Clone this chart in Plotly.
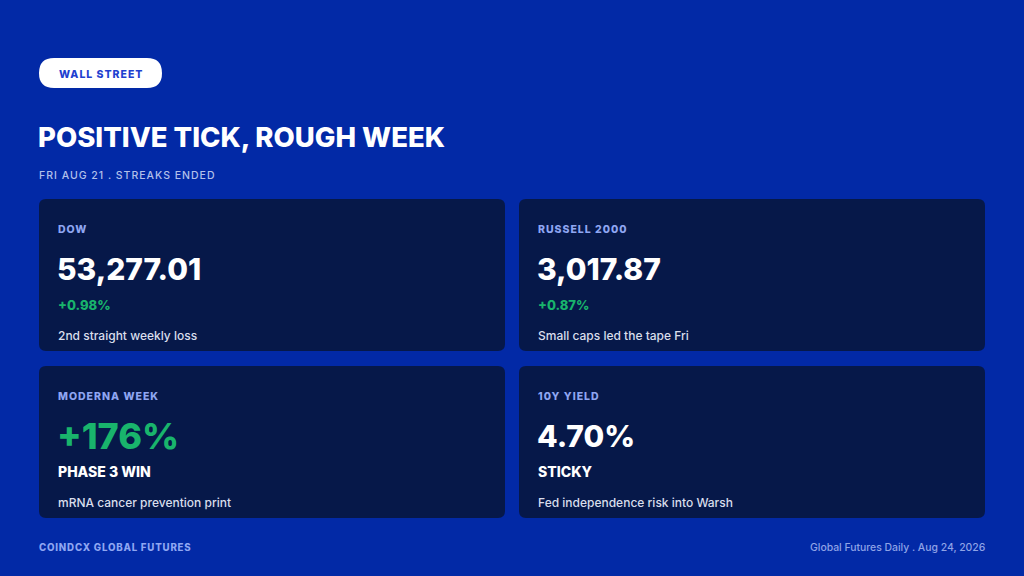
import plotly.graph_objects as go

# ---- data ----
kicker = "WALL STREET"
title = "POSITIVE TICK, ROUGH WEEK"
subtitle = "FRI AUG 21 . STREAKS ENDED"
card_labels = ["DOW", "RUSSELL 2000", "MODERNA WEEK", "10Y YIELD"]
card_values = ["53,277.01", "3,017.87", "+176%", "4.70%"]
card_subs = ["+0.98%", "+0.87%", "PHASE 3 WIN", "STICKY"]
card_sub_kind = ["change", "change", "tag", "tag"]
card_value_kind = ["plain", "plain", "positive", "plain"]
card_notes = ["2nd straight weekly loss", "Small caps led the tape Fri",
              "mRNA cancer prevention print", "Fed independence risk into Warsh"]
footer_left = "COINDCX GLOBAL FUTURES"
footer_right = "Global Futures Daily . Aug 24, 2026"

# ---- style ----
W, H = 1024, 576
BG = "#0229A6"
CARD = "#061849"
GREEN = "#19B46C"
LABEL = "#8FA6F2"
NOTE = "#D9DEEC"
FONT = "Inter"

def rr(x0, y0, x1, y1, r):
    return (f"M{x0+r},{y0} L{x1-r},{y0} Q{x1},{y0} {x1},{y0+r} "
            f"L{x1},{y1-r} Q{x1},{y1} {x1-r},{y1} L{x0+r},{y1} "
            f"Q{x0},{y1} {x0},{y1-r} L{x0},{y0+r} Q{x0},{y0} {x0+r},{y0} Z")

def ls(text, px):
    return f'<span style="letter-spacing:{px}px">{text}</span>'

fig = go.Figure()
fig.add_trace(go.Scatter(x=[0, W], y=[0, H], mode="markers",
                         marker=dict(opacity=0), hoverinfo="skip", showlegend=False))

shapes = []
ann = []
LX = 37  # text left edge (compensates annotation padding)

# kicker pill
shapes.append(dict(type="path", path=rr(39, 58, 162, 88, 15), fillcolor="white",
                   line=dict(width=0), layer="below"))
ann.append(dict(x=100.5, y=74, text=ls(kicker, 1), xanchor="center",
                yanchor="middle", font=dict(family=FONT, size=10.5, color="#1E3FD0",
                                            weight=800)))
ann.append(dict(x=LX - 1, y=137, text=title, xanchor="left", yanchor="middle",
                font=dict(family=FONT, size=27.5, color="white", weight=800)))
ann.append(dict(x=LX, y=175, text=ls(subtitle, 1), xanchor="left", yanchor="middle",
                font=dict(family=FONT, size=10.5, color="#B3C0EA", weight=500)))

# cards grid
x_starts = [39, 519]
y_starts = [199, 366]
cw, ch = 466, 152
for i, lab in enumerate(card_labels):
    cx = x_starts[i % 2]
    cy = y_starts[i // 2]
    shapes.append(dict(type="path", path=rr(cx, cy, cx + cw, cy + ch, 7),
                       fillcolor=CARD, line=dict(width=0), layer="below"))
    tx = cx + 17
    ann.append(dict(x=tx, y=cy + 30, text=ls(lab, 1), xanchor="left",
                    yanchor="middle", font=dict(family=FONT, size=10.5, color=LABEL,
                                                weight=800)))
    vcol = GREEN if card_value_kind[i] == "positive" else "white"
    vsize = 36 if card_value_kind[i] == "positive" else 30
    ann.append(dict(x=tx - 1, y=cy + 70, text=card_values[i], xanchor="left",
                    yanchor="middle",
                    font=dict(family=FONT, size=vsize, color=vcol, weight=800)))
    if card_sub_kind[i] == "change":
        ann.append(dict(x=tx, y=cy + 106, text=card_subs[i], xanchor="left",
                        yanchor="middle", font=dict(family=FONT, size=13, color=GREEN,
                                                    weight=800)))
    else:
        ann.append(dict(x=tx, y=cy + 105, text=card_subs[i], xanchor="left",
                        yanchor="middle", font=dict(family=FONT, size=14, color="white",
                                                    weight=800)))
    ann.append(dict(x=tx, y=cy + 136, text=card_notes[i], xanchor="left",
                    yanchor="middle", font=dict(family=FONT, size=12, color=NOTE,
                                                weight=500)))

ann.append(dict(x=LX, y=547, text=ls(footer_left, 0.8), xanchor="left",
                yanchor="middle", font=dict(family=FONT, size=9.7, color=LABEL,
                                            weight=800)))
ann.append(dict(x=987, y=547, text=footer_right, xanchor="right", yanchor="middle",
                font=dict(family=FONT, size=10.4, color="#8FA3E6", weight=500)))

for a in ann:
    a.update(xref="x", yref="y", showarrow=False)

fig.update_layout(
    width=W, height=H, margin=dict(l=0, r=0, t=0, b=0),
    paper_bgcolor=BG, plot_bgcolor=BG,
    xaxis=dict(range=[0, W], visible=False, fixedrange=True),
    yaxis=dict(range=[H, 0], visible=False, fixedrange=True),
    shapes=shapes, annotations=ann, showlegend=False,
)
fig.write_html("out.html", config={"displayModeBar": False},
               post_script="document.body.style.margin='0';"
                           "document.body.style.background='" + BG + "';")
